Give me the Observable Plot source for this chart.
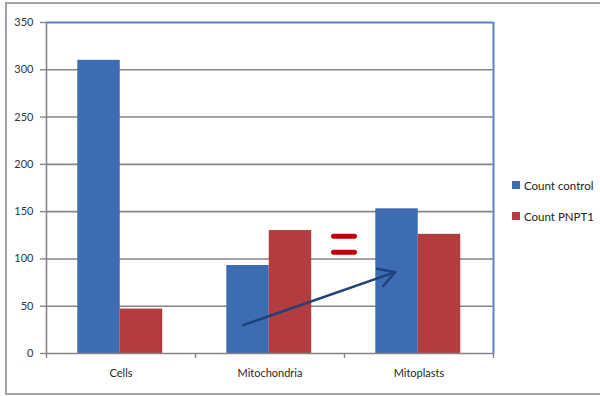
<!DOCTYPE html>
<html>
<head>
<meta charset="utf-8">
<script src="https://cdn.jsdelivr.net/npm/d3@7"></script>
<script src="https://cdn.jsdelivr.net/npm/@observablehq/plot@0.6"></script>
<style>
  html, body { margin: 0; padding: 0; background: #ffffff; }
  #chart { position: relative; width: 600px; height: 396px; overflow: hidden; }
  #frame { position: absolute; left: 5px; top: 2px; width: 700px; height: 393px;
           box-sizing: border-box; border: 2px solid #a3a3a3; }
  #plot { position: absolute; left: 0; top: 0; }
  #legend { position: absolute; left: 512px; top: 178px; font-family: Lato, "Open Sans", sans-serif;
            font-size: 11.5px; color: #222; }
  .row { display: flex; align-items: center; height: 14px; margin-bottom: 17px; }
  .sw { width: 8px; height: 8px; margin-right: 4px; }
</style>
</head>
<body>
<div id="chart">
  <div id="frame"></div>
  <div id="plot"></div>
  <div id="legend"></div>
</div>
<script>
// Counts per fraction
const categories = ["Cells", "Mitochondria", "Mitoplasts"];
const seriesNames = ["Count control", "Count PNPT1"];
const countControl = [310, 93, 153];
const countPNPT1 = [47, 130, 126];
const yTicks = [0, 50, 100, 150, 200, 250, 300, 350];

// Annotations: rising arrow and an "equals" mark (values on the count axis)
const arrowValues = [30, 86];
const equalsLevels = [124, 107];

const seriesColors = ["#3e6cb2", "#b33c3e"];
const gridColor = "#858585";
const borderBlue = "#5b84c4";

// Each category occupies one unit on x; the pair of bars sits in the middle
const barPad = 0.21;
const barHalf = 0.285;

const rows = categories.flatMap((c, i) => [
  {category: c, index: i, s: 0, series: seriesNames[0], value: countControl[i]},
  {category: c, index: i, s: 1, series: seriesNames[1], value: countPNPT1[i]}
]);

const iMito = categories.indexOf("Mitochondria");
const iPlast = categories.indexOf("Mitoplasts");
const arrow = [{x1: iMito + 0.32, y1: arrowValues[0], x2: iPlast + 0.34, y2: arrowValues[1]}];

const chart = Plot.plot({
  width: 600,
  height: 396,
  marginLeft: 46,
  marginRight: 107,
  marginTop: 22,
  marginBottom: 43,
  style: {fontFamily: "Lato, 'Open Sans', sans-serif", fontSize: "11px", background: "transparent", color: "#262626"},
  x: {type: "linear", domain: [0, categories.length]},
  y: {domain: [0, 350]},
  color: {domain: seriesNames, range: seriesColors},
  marks: [
    Plot.ruleY(yTicks.filter(t => t > 0 && t < 350), {stroke: gridColor, strokeWidth: 1.6}),
    Plot.rect(rows, {
      x1: d => d.index + barPad + d.s * barHalf,
      x2: d => d.index + barPad + (d.s + 1) * barHalf,
      y1: 0,
      y2: "value",
      fill: "series"
    }),
    Plot.ruleY([0], {stroke: gridColor, strokeWidth: 1.6}),
    Plot.ruleX([0], {stroke: gridColor, strokeWidth: 1.6}),
    Plot.ruleY([350], {stroke: borderBlue, strokeWidth: 2}),
    Plot.ruleX([categories.length], {y1: 0, y2: 350, stroke: borderBlue, strokeWidth: 2}),
    Plot.axisY({ticks: yTicks, tickSize: 6, tickPadding: 7, stroke: gridColor, strokeWidth: 1.4, fill: "#333", label: null}),
    Plot.axisX({ticks: d3.range(categories.length + 1), tickSize: 5, tickFormat: () => "", stroke: gridColor, strokeWidth: 1.4, label: null}),
    Plot.axisX({
      ticks: categories.map((c, i) => i + 0.5),
      tickSize: 0,
      tickPadding: 16,
      tickFormat: t => categories[Math.floor(t)],
      fill: "#262626",
      label: null
    }),
    Plot.arrow(arrow, {x1: "x1", y1: "y1", x2: "x2", y2: "y2", stroke: "#1f4279", strokeWidth: 2.5, headLength: 11}),
    Plot.ruleY(equalsLevels, {x1: () => iPlast - 0.07, x2: () => iPlast + 0.07, stroke: "#c00000", strokeWidth: 5, strokeLinecap: "round"})
  ]
});
document.getElementById("plot").appendChild(chart);

const legend = document.getElementById("legend");
seriesNames.forEach((name, i) => {
  const row = document.createElement("div");
  row.className = "row";
  const sw = document.createElement("div");
  sw.className = "sw";
  sw.style.background = seriesColors[i];
  const label = document.createElement("span");
  label.textContent = name;
  row.appendChild(sw);
  row.appendChild(label);
  legend.appendChild(row);
});
</script>
</body>
</html>
